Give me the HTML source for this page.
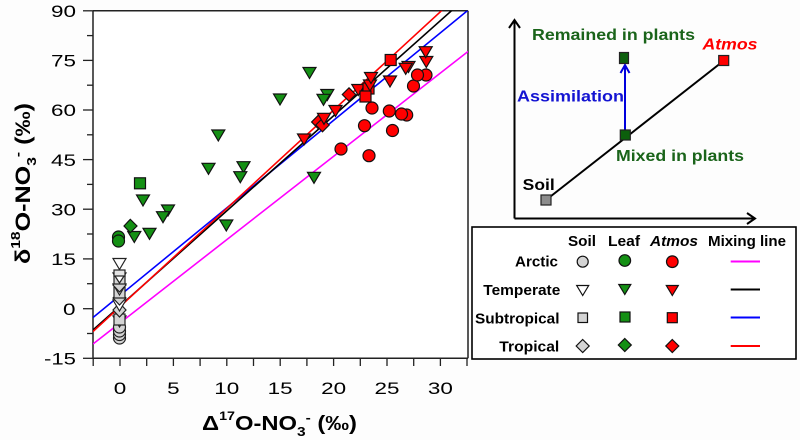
<!DOCTYPE html>
<html><head><meta charset="utf-8"><style>
html,body{margin:0;padding:0;background:#fdfdfd;}
svg{display:block;font-family:"Liberation Sans",Arial,sans-serif;}
</style></head><body>
<svg width="800" height="440" viewBox="0 0 800 440" xmlns="http://www.w3.org/2000/svg">
<rect x="0" y="0" width="800" height="440" fill="#fdfdfd"/>
<defs>
<clipPath id="pc"><rect x="93" y="10.8" width="375" height="347.5"/></clipPath>
</defs>
<!-- plot frame -->
<rect x="93" y="10.8" width="375" height="347.5" fill="#ffffff" stroke="none"/>
<g stroke="#222" stroke-width="1.5" fill="none">
<line x1="93" y1="10.8" x2="468" y2="10.8"/>
<line x1="468" y1="10.8" x2="468" y2="358.3"/>
<line x1="93" y1="10.8" x2="93" y2="358.3"/>
<line x1="93" y1="358.3" x2="468" y2="358.3"/>
</g>
<!-- y ticks -->
<g stroke="#222" stroke-width="1.3">
<line x1="83" y1="10.8" x2="93" y2="10.8"/>
<line x1="87" y1="35.6" x2="93" y2="35.6"/>
<line x1="83" y1="60.4" x2="93" y2="60.4"/>
<line x1="87" y1="85.2" x2="93" y2="85.2"/>
<line x1="83" y1="110" x2="93" y2="110"/>
<line x1="87" y1="134.8" x2="93" y2="134.8"/>
<line x1="83" y1="159.6" x2="93" y2="159.6"/>
<line x1="87" y1="184.4" x2="93" y2="184.4"/>
<line x1="83" y1="209.2" x2="93" y2="209.2"/>
<line x1="87" y1="234" x2="93" y2="234"/>
<line x1="83" y1="258.9" x2="93" y2="258.9"/>
<line x1="87" y1="283.7" x2="93" y2="283.7"/>
<line x1="83" y1="308.7" x2="93" y2="308.7"/>
<line x1="87" y1="333.5" x2="93" y2="333.5"/>
<line x1="83" y1="358.3" x2="93" y2="358.3"/>
</g>
<!-- x ticks -->
<g stroke="#222" stroke-width="1.3">
<line x1="93.2" y1="358.3" x2="93.2" y2="366"/>
<line x1="120" y1="358.3" x2="120" y2="366"/>
<line x1="146.7" y1="358.3" x2="146.7" y2="366"/>
<line x1="173.4" y1="358.3" x2="173.4" y2="366"/>
<line x1="200.1" y1="358.3" x2="200.1" y2="366"/>
<line x1="226.8" y1="358.3" x2="226.8" y2="366"/>
<line x1="253.5" y1="358.3" x2="253.5" y2="366"/>
<line x1="280.2" y1="358.3" x2="280.2" y2="366"/>
<line x1="306.9" y1="358.3" x2="306.9" y2="366"/>
<line x1="333.6" y1="358.3" x2="333.6" y2="366"/>
<line x1="360.3" y1="358.3" x2="360.3" y2="366"/>
<line x1="387" y1="358.3" x2="387" y2="366"/>
<line x1="413.7" y1="358.3" x2="413.7" y2="366"/>
<line x1="440.4" y1="358.3" x2="440.4" y2="366"/>
<line x1="467" y1="358.3" x2="467" y2="366"/>
</g>
<!-- y tick labels -->
<g font-size="17" fill="#000" text-anchor="end">
<text x="76" y="17" textLength="25" lengthAdjust="spacingAndGlyphs">90</text>
<text x="76" y="66.6" textLength="25" lengthAdjust="spacingAndGlyphs">75</text>
<text x="76" y="116.2" textLength="25" lengthAdjust="spacingAndGlyphs">60</text>
<text x="76" y="165.8" textLength="25" lengthAdjust="spacingAndGlyphs">45</text>
<text x="76" y="215.4" textLength="25" lengthAdjust="spacingAndGlyphs">30</text>
<text x="76" y="265.1" textLength="25" lengthAdjust="spacingAndGlyphs">15</text>
<text x="75.5" y="314.9" textLength="12.5" lengthAdjust="spacingAndGlyphs">0</text>
<text x="76" y="364.5" textLength="32" lengthAdjust="spacingAndGlyphs">-15</text>
</g>
<!-- x tick labels -->
<g font-size="17" fill="#000" text-anchor="middle">
<text x="120" y="394" textLength="12.5" lengthAdjust="spacingAndGlyphs">0</text>
<text x="173.4" y="394" textLength="12.5" lengthAdjust="spacingAndGlyphs">5</text>
<text x="226.8" y="394" textLength="25" lengthAdjust="spacingAndGlyphs">10</text>
<text x="280.2" y="394" textLength="25" lengthAdjust="spacingAndGlyphs">15</text>
<text x="333.6" y="394" textLength="25" lengthAdjust="spacingAndGlyphs">20</text>
<text x="387" y="394" textLength="25" lengthAdjust="spacingAndGlyphs">25</text>
<text x="440.4" y="394" textLength="25" lengthAdjust="spacingAndGlyphs">30</text>
</g>
<!-- axis titles -->
<text x="202" y="430" font-size="20" font-weight="bold" fill="#000" textLength="155" lengthAdjust="spacingAndGlyphs">Δ<tspan font-size="12" dy="-10">17</tspan><tspan dy="10">O-NO</tspan><tspan font-size="13" dy="6">3</tspan><tspan font-size="13" dy="-14">-</tspan><tspan dy="8"> (‰)</tspan></text>
<g transform="translate(30,264) rotate(-90)">
<text x="0" y="0" font-size="21" font-weight="bold" fill="#000" textLength="161" lengthAdjust="spacingAndGlyphs">δ<tspan font-size="13" dy="-10">18</tspan><tspan dy="10">O-NO</tspan><tspan font-size="13" dy="6">3</tspan><tspan font-size="13" dy="-14">-</tspan><tspan dy="8"> (‰)</tspan></text>
</g>
<!-- mixing lines -->
<g clip-path="url(#pc)" stroke-width="1.6" fill="none">
<line x1="93" y1="344" x2="468" y2="51.5" stroke="#ff00ff"/>
<line x1="93" y1="317.5" x2="468" y2="10.2" stroke="#0000ff"/>
<line x1="93" y1="330" x2="452" y2="10.3" stroke="#000"/>
<line x1="93" y1="331.5" x2="442" y2="10.3" stroke="#ff0000"/>
</g>
<!-- soil markers -->
<g stroke="#222" stroke-width="1.2">
<circle cx="119.5" cy="338" r="6" fill="#d4d4d4"/>
<circle cx="119.5" cy="334.5" r="6" fill="#d4d4d4"/>
<circle cx="119.5" cy="331" r="6" fill="#d4d4d4"/>
<circle cx="119.5" cy="327" r="6" fill="#d4d4d4"/>
<polygon points="113,316 126,316 119.5,327" fill="#fff"/>
<rect x="114" y="314" width="11" height="11" fill="#d4d4d4"/>
<polygon points="119.5,303 126,310 119.5,317 113,310" fill="#d4d4d4"/>
<polygon points="113,300 126,300 119.5,311" fill="#fff"/>
<polygon points="119.5,291 126,298 119.5,305 113,298" fill="#d4d4d4"/>
<rect x="114" y="287" width="11" height="11" fill="#d4d4d4"/>
<polygon points="113,284 126,284 119.5,295" fill="#fff"/>
<polygon points="119.5,278 126,285 119.5,292 113,285" fill="#d4d4d4"/>
<rect x="114" y="276" width="11" height="8" fill="#d4d4d4"/>
<polygon points="113,273 126,273 119.5,283" fill="#fff"/>
<rect x="114" y="270" width="11" height="6" fill="#e4e4e4"/>
<polygon points="113,258.5 126,258.5 119.5,269.5" fill="#fff"/>
</g>
<!-- leaf markers -->
<g stroke="#111" stroke-width="1.2" fill="#149014">
<circle cx="118.5" cy="237" r="6"/>
<circle cx="118.5" cy="241" r="6"/>
<polygon points="127.8,231.5 140.8,231.5 134.3,242.5"/>
<polygon points="124,226 130.3,219.3 137,226 130.3,232.7"/>
<polygon points="143,228.3 156,228.3 149.5,239.3"/>
<rect x="134.5" y="177.8" width="11" height="11"/>
<polygon points="136.5,195 149.5,195 143,206"/>
<polygon points="161.5,205 174.5,205 168,216"/>
<polygon points="156.5,211.7 169.5,211.7 163,222.7"/>
<polygon points="219.8,220 232.8,220 226.3,231"/>
<polygon points="211.8,130 224.8,130 218.3,141"/>
<polygon points="202,163.3 215,163.3 208.5,174.3"/>
<polygon points="237,161.7 250,161.7 243.5,172.7"/>
<polygon points="233.8,171.7 246.8,171.7 240.3,182.7"/>
<polygon points="307.5,172.3 320.5,172.3 314,183.3"/>
<polygon points="273.5,94 286.5,94 280,105"/>
<polygon points="303,67.5 316,67.5 309.5,78.5"/>
<polygon points="320.8,89.5 333.8,89.5 327.3,100.5"/>
<polygon points="317,94.3 330,94.3 323.5,105.3"/>
</g>
<!-- atmos markers -->
<g stroke="#111" stroke-width="1.2" fill="#ff0000">
<circle cx="369" cy="155.7" r="6"/>
<circle cx="341" cy="149" r="6"/>
<circle cx="392.5" cy="130.5" r="6"/>
<circle cx="364.5" cy="125.7" r="6"/>
<circle cx="406.7" cy="115" r="6"/>
<circle cx="401.5" cy="114" r="6"/>
<circle cx="389.3" cy="111" r="6"/>
<circle cx="372" cy="108" r="6"/>
<circle cx="413.5" cy="86" r="6"/>
<circle cx="426" cy="75" r="6"/>
<circle cx="417.5" cy="75" r="6"/>
<polygon points="297.5,134 310.5,134 304,145"/>
<polygon points="318.3,115.2 325,122 318.3,128.8 311.6,122"/>
<polygon points="322.5,118.3 329.2,125 322.5,131.8 315.8,125"/>
<polygon points="317.5,113.3 330.5,113.3 324,124.3"/>
<polygon points="329,105.5 342,105.5 335.5,116.5"/>
<polygon points="349,87.8 355.7,94.5 349,101.2 342.3,94.5"/>
<polygon points="351.8,84.5 364.8,84.5 358.3,95.5"/>
<rect x="363" y="83" width="11" height="11"/>
<rect x="360" y="91" width="11" height="11"/>
<polygon points="363.5,80 376.5,80 370,91"/>
<polygon points="364.5,72.5 377.5,72.5 371,83.5"/>
<polygon points="383.5,76 396.5,76 390,87"/>
<rect x="385.2" y="54.5" width="11" height="11"/>
<polygon points="402,61.5 415,61.5 408.5,72.5"/>
<polygon points="399.2,63.3 412.2,63.3 405.7,74.3"/>
<polygon points="419.8,56.5 432.8,56.5 426.3,67.5"/>
<polygon points="419.2,46.7 432.2,46.7 425.7,57.7"/>
</g>
<!-- inset diagram -->
<g stroke="#000" stroke-width="2" fill="none">
<line x1="514.5" y1="218.5" x2="514.5" y2="21"/>
<polyline points="509,28 514.5,20 520,28"/>
<line x1="514.5" y1="218.5" x2="755" y2="218.5"/>
<polyline points="747,213 755,218.5 747,224"/>
<line x1="546" y1="200" x2="724" y2="60.5"/>
</g>
<g stroke="#0000dd" stroke-width="2" fill="none">
<line x1="625" y1="132" x2="625" y2="65"/>
<polyline points="620.5,73 625,65 629.5,73"/>
</g>
<g stroke="#222" stroke-width="1.2">
<rect x="541" y="195" width="10" height="10" fill="#8c8c8c"/>
<rect x="620.3" y="130" width="10" height="10" fill="#0c5f0c"/>
<rect x="619.5" y="52.5" width="9" height="11" fill="#0c5f0c"/>
<rect x="718.7" y="55.5" width="10" height="10" fill="#ff0000"/>
</g>
<g font-size="16" font-weight="bold">
<text x="532" y="40" fill="#1a641a" textLength="163" lengthAdjust="spacingAndGlyphs">Remained in plants</text>
<text x="702.5" y="49.5" fill="#ff0000" font-style="italic" textLength="55" lengthAdjust="spacingAndGlyphs">Atmos</text>
<text x="517" y="101.7" fill="#1414d2" textLength="107" lengthAdjust="spacingAndGlyphs">Assimilation</text>
<text x="616" y="161" fill="#1a641a" textLength="128" lengthAdjust="spacingAndGlyphs">Mixed in plants</text>
<text x="522.7" y="190" fill="#000" textLength="32" lengthAdjust="spacingAndGlyphs">Soil</text>
</g>
<!-- legend -->
<rect x="472" y="227" width="324" height="132" fill="#fff" stroke="#000" stroke-width="1.6"/>
<g font-size="15" font-weight="bold" fill="#000">
<text x="568" y="246" textLength="28" lengthAdjust="spacingAndGlyphs">Soil</text>
<text x="608" y="246" textLength="32" lengthAdjust="spacingAndGlyphs">Leaf</text>
<text x="650" y="246" font-style="italic" textLength="48" lengthAdjust="spacingAndGlyphs">Atmos</text>
<text x="708" y="246" textLength="78" lengthAdjust="spacingAndGlyphs">Mixing line</text>
<text x="515" y="266.7" textLength="43" lengthAdjust="spacingAndGlyphs">Arctic</text>
<text x="483.3" y="295" textLength="77" lengthAdjust="spacingAndGlyphs">Temperate</text>
<text x="475" y="323.3" textLength="84.5" lengthAdjust="spacingAndGlyphs">Subtropical</text>
<text x="499.3" y="351.7" textLength="60" lengthAdjust="spacingAndGlyphs">Tropical</text>
</g>
<g stroke="#111" stroke-width="1.2">
<circle cx="582.7" cy="261.7" r="5.5" fill="#d4d4d4"/>
<circle cx="624.8" cy="260.5" r="5.8" fill="#149014"/>
<circle cx="672.3" cy="261.7" r="5.8" fill="#ff0000"/>
<polygon points="576.7,285.5 588.7,285.5 582.7,295.5" fill="#fff"/>
<polygon points="618.8,284.5 630.8,284.5 624.8,294.5" fill="#149014"/>
<polygon points="666.3,285.5 678.3,285.5 672.3,295.5" fill="#ff0000"/>
<rect x="578" y="313" width="9.5" height="9.5" fill="#d4d4d4"/>
<rect x="620" y="312" width="10" height="10" fill="#149014"/>
<rect x="667.3" y="312.7" width="10" height="10" fill="#ff0000"/>
<polygon points="582.7,339.5 589.2,346 582.7,352.5 576.2,346" fill="#d4d4d4"/>
<polygon points="624.8,338.5 631.3,345 624.8,351.5 618.3,345" fill="#149014"/>
<polygon points="672.3,339.5 678.8,346 672.3,352.5 665.8,346" fill="#ff0000"/>
</g>
<g stroke-width="2">
<line x1="730.7" y1="261.5" x2="760" y2="261.5" stroke="#ff00ff"/>
<line x1="730.7" y1="289.5" x2="760" y2="289.5" stroke="#000"/>
<line x1="730.7" y1="317.5" x2="760" y2="317.5" stroke="#0000ff"/>
<line x1="730.7" y1="346" x2="760" y2="346" stroke="#ff0000"/>
</g>
</svg>
</body></html>
